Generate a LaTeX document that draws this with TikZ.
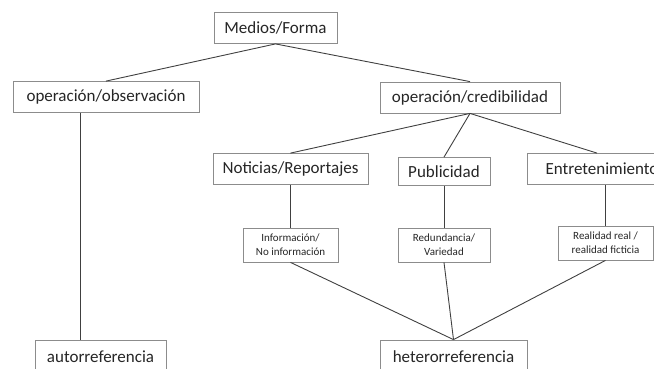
\documentclass[tikz,border=0pt]{standalone}
\usepackage{fontspec}
\setmainfont{Carlito}
\begin{document}
\begin{tikzpicture}[x=1pt, y=1pt,
	box/.style={draw=black!45, fill=white, line width=0.8pt, inner sep=0pt,
		text=black!85, font=\fontsize{17}{19}\selectfont, align=center},
	smallbox/.style={box, font=\fontsize{11}{14}\selectfont},
	link/.style={draw=black!75, line width=0.9pt}]
	\def \bh{31}
	\def \sh{34}

	\useasboundingbox (0,0) rectangle (654,-368);

	% Top levels
	\node[box, minimum width=123, minimum height=\bh] (medios) at (275.5,-28) {Medios/Forma};
	\node[box, minimum width=186, minimum height=\bh] (obs) at (106,-97) {operación/observación};
	\node[box, minimum width=180, minimum height=\bh] (cred) at (470,-97.5) {operación/credibilidad};

	% Programmes
	\node[box, minimum width=155, minimum height=\bh] (noticias) at (290.5,-169) {Noticias/Reportajes};
	\node[box, minimum width=92, minimum height=28] (publi) at (444,-171.5) {Publicidad};
	\node[box, minimum width=150, minimum height=\bh] (entre) at (602,-169) {Entretenimiento};

	% Codes
	\node[smallbox, minimum width=95, minimum height=\sh] (info) at (290.5,-245) {Información/\\No información};
	\node[smallbox, minimum width=92, minimum height=\sh] (redun) at (444,-245) {Redundancia/\\Variedad};
	\node[smallbox, minimum width=95, minimum height=\sh] (real) at (605.5,-243) {Realidad real /\\realidad ficticia};

	% Reference
	\node[box, minimum width=131, minimum height=\sh] (auto) at (100.5,-357) {autorreferencia};
	\node[box, minimum width=147, minimum height=\sh] (hetero) at (453.5,-357) {heterorreferencia};

	% Links
	\draw[link] (medios.south) -- (obs.north);
	\draw[link] (medios.south) -- (cred.north);
	\draw[link] ([xshift=-26]obs.south) -- ([xshift=-20.5]auto.north);
	\foreach \n in {noticias, publi} {
		\draw[link] (cred.south) -- (\n.north);
	}
	\draw[link] (cred.south) -- ([xshift=-5]entre.north);
	\draw[link] (noticias.south) -- (info.north);
	\draw[link] (publi.south) -- (redun.north);
	\draw[link] (entre.south -| real.north) -- (real.north);
	\foreach \n in {info, redun, real} {
		\draw[link] (\n.south) -- (hetero.north);
	}
\end{tikzpicture}
\end{document}
